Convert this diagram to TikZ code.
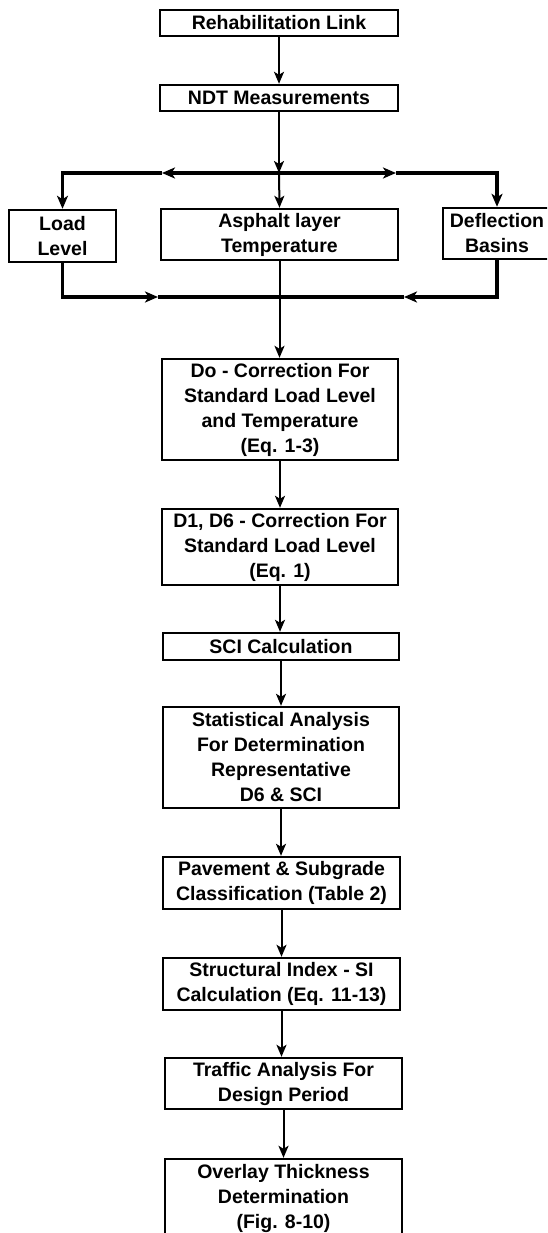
\documentclass[tikz,border=0pt]{standalone}
\usepackage{fontspec}
\setmainfont{Liberation Sans}
\usetikzlibrary{arrows.meta,calc}
\begin{document}
\begin{tikzpicture}[x=1pt,y=-1pt,
  box/.style={draw,line width=2.4pt,inner sep=0pt,align=center,
    font=\fontsize{19.5}{25}\selectfont\bfseries},
  thinl/.style={line width=2pt},
  bus/.style={line width=3.8pt},
  tip/.style={-{Stealth[length=12pt,width=10pt,inset=3pt]}},
  btip/.style={-{Stealth[length=13pt,width=11pt,inset=3.5pt]}}
]
\useasboundingbox (0,0) rectangle (547,1233);
\clip (0,0) rectangle (547,1233);

\node[box,minimum width=238pt,minimum height=26pt] (rehab) at (279,23) {Rehabilitation Link};
\node[box,minimum width=238pt,minimum height=26pt] (ndt) at (279,98) {NDT Measurements};
\node[box,minimum width=107pt,minimum height=52pt] (load) at (62.5,236) {Load\\Level};
\node[box,minimum width=237pt,minimum height=51pt] (asph) at (279.5,234.5) {Asphalt layer\\Temperature};
\node[box,minimum width=108pt,minimum height=51pt] (defl) at (497,233.5) {Deflection\\Basins};
\node[box,minimum width=236pt,minimum height=101pt] (do) at (280,409.5) {Do - Correction For\\Standard Load Level\\and Temperature\\(Eq. 1-3)};
\node[box,minimum width=236pt,minimum height=76pt] (d1) at (280,547) {D1, D6 - Correction For\\Standard Load Level\\(Eq. 1)};
\node[box,minimum width=236pt,minimum height=27pt] (sci) at (281,646.5) {SCI Calculation};
\node[box,minimum width=236pt,minimum height=101pt] (stat) at (281,757.5) {Statistical Analysis\\For Determination\\Representative\\D6 \& SCI};
\node[box,minimum width=237pt,minimum height=52pt] (pave) at (281.5,883) {Pavement \& Subgrade\\Classification (Table 2)};
\node[box,minimum width=237pt,minimum height=52pt] (struc) at (281.5,984) {Structural Index - SI\\Calculation (Eq. 11-13)};
\node[box,minimum width=237pt,minimum height=51pt] (traf) at (283.5,1083.5) {Traffic Analysis For\\Design Period};
\node[box,minimum width=237pt,minimum height=79pt] (over) at (283.5,1198.5) {Overlay Thickness\\Determination\\(Fig. 8-10)};

\coordinate (jt) at (279,173);
\coordinate (lt) at (62.5,173);
\coordinate (rt) at (497,173);
\coordinate (ma1) at (162,173);
\coordinate (ma2) at (396,173);
\coordinate (lb) at (62.5,297);
\coordinate (rb) at (497,297);
\coordinate (jb) at (279,297);
\coordinate (mb1) at (158,297);
\coordinate (mb2) at (404,297);

\draw[thinl,tip] (rehab.south) -- (ndt.north);
\draw[thinl,tip] (ndt.south) -- (jt);
\draw[thinl,tip] (jt) -- (asph.north);
\draw[bus,btip] (jt) -- (ma1);
\draw[bus,btip] (ma1) -- (lt) -- (load.north);
\draw[bus,btip] (jt) -- (ma2);
\draw[bus,btip] (ma2) -- (rt) -- (defl.north);
\draw[bus,btip] (load.south) -- (lb) -- (mb1);
\draw[bus] (mb1) -- (jb);
\draw[bus,btip] (defl.south) -- (rb) -- (mb2);
\draw[bus] (mb2) -- (jb);
\draw[thinl,tip] (asph.south) -- (asph.south |- do.north);
\draw[thinl,tip] (do.south) -- (do.south |- d1.north);
\draw[thinl,tip] (d1.south) -- (d1.south |- sci.north);
\draw[thinl,tip] (sci.south) -- (sci.south |- stat.north);
\draw[thinl,tip] (stat.south) -- (stat.south |- pave.north);
\draw[thinl,tip] (pave.south) -- (pave.south |- struc.north);
\draw[thinl,tip] (struc.south) -- (struc.south |- traf.north);
\draw[thinl,tip] (traf.south) -- (traf.south |- over.north);
\end{tikzpicture}
\end{document}
